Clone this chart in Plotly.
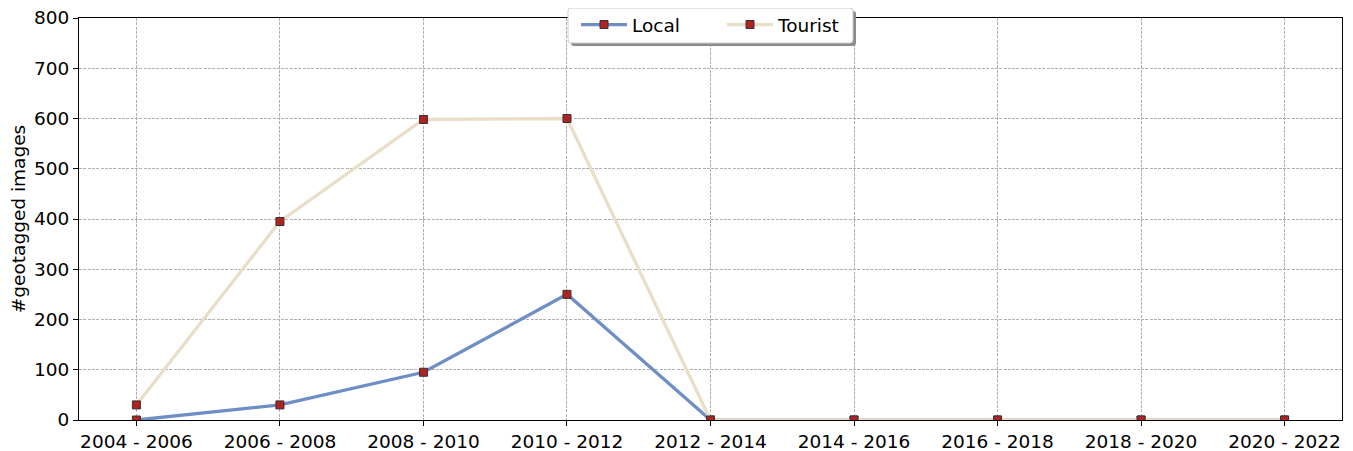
import plotly.graph_objects as go

periods = ["2004 - 2006", "2006 - 2008", "2008 - 2010", "2010 - 2012", "2012 - 2014",
           "2014 - 2016", "2016 - 2018", "2018 - 2020", "2020 - 2022"]
local = [0, 30, 95, 250, 0, 0, 0, 0, 0]
tourist = [30, 395, 598, 600, 0, 0, 0, 0, 0]
yticks = [0, 100, 200, 300, 400, 500, 600, 700, 800]

xpos = list(range(len(periods)))
FONT = "DejaVu Sans"
FS = 18.5
marker = dict(symbol="square", size=8, color="#b22222", line=dict(color="#333333", width=1))

fig = go.Figure()
fig.add_trace(go.Scatter(x=xpos, y=local, name="Local", mode="lines+markers",
                         line=dict(color="#6f8ec6", width=3.3), marker=marker))
fig.add_trace(go.Scatter(x=xpos, y=tourist, name="Tourist", mode="lines+markers",
                         line=dict(color="#e9dfc8", width=3.3), marker=marker))

# page body has an 8px margin; compensate so the plot area lands at screen 79..1342, 18..420
OFF = 8
W, H = 1353 - OFF, 451 - OFF
L, R, T, B = 79 - OFF, 11, 18 - OFF, 31
pw, ph = W - L - R, H - T - B

def px(sx):
    return (sx - (L + OFF)) / pw

def py(sy):
    return ((H - B + OFF) - sy) / ph

def rounded(x0, y0, x1, y1, r):
    rx, ry = r / pw, r / ph
    a, b, c, d = px(x0), py(y0), px(x1), py(y1)
    return (f"M{a+rx},{b} L{c-rx},{b} Q{c},{b} {c},{b-ry} L{c},{d+ry} Q{c},{d} {c-rx},{d} "
            f"L{a+rx},{d} Q{a},{d} {a},{d+ry} L{a},{b-ry} Q{a},{b} {a+rx},{b} Z")

# legend shadow and box
fig.add_shape(type="path", xref="paper", yref="paper", path=rounded(571, 11, 856, 46, 3),
              fillcolor="#8c8c8c", line=dict(width=0), layer="above")
fig.add_shape(type="path", xref="paper", yref="paper", path=rounded(568, 8, 853, 43, 3),
              fillcolor="white", line=dict(color="#cccccc", width=1), layer="above")

fig.update_layout(
    width=W, height=H,
    margin=dict(l=L, r=R, t=T, b=B, autoexpand=False),
    plot_bgcolor="white", paper_bgcolor="white",
    font=dict(family=FONT, size=FS, color="black"),
    showlegend=True,
    legend=dict(orientation="h", x=px(576), xanchor="left", y=py(6), yanchor="top",
                bgcolor="rgba(0,0,0,0)", borderwidth=0, itemwidth=46,
                font=dict(family=FONT, size=FS), entrywidth=85, entrywidthmode="pixels",
                tracegroupgap=0),
    xaxis=dict(range=[-0.4, 8.4], tickmode="array", tickvals=xpos, ticktext=periods,
               showgrid=True, gridcolor="#b0b0b0", griddash="3px,1.3px", gridwidth=0.8,
               showline=True, linecolor="black", linewidth=1, mirror=True, automargin=False,
               ticks="outside", ticklen=5, tickcolor="black", zeroline=False,
               ticklabeloverflow="allow",
               tickfont=dict(family=FONT, size=FS)),
    yaxis=dict(range=[0, 800], tickmode="array", tickvals=yticks, automargin=False,
               showgrid=True, gridcolor="#b0b0b0", griddash="3px,1.3px", gridwidth=0.8,
               showline=True, linecolor="black", linewidth=1, mirror=True,
               ticks="outside", ticklen=5, tickcolor="black", zeroline=False,
               ticklabeloverflow="allow",
               title=dict(text="#geotagged images", standoff=4, font=dict(family=FONT, size=FS)),
               tickfont=dict(family=FONT, size=FS)),
)
fig.write_html("out.html")
